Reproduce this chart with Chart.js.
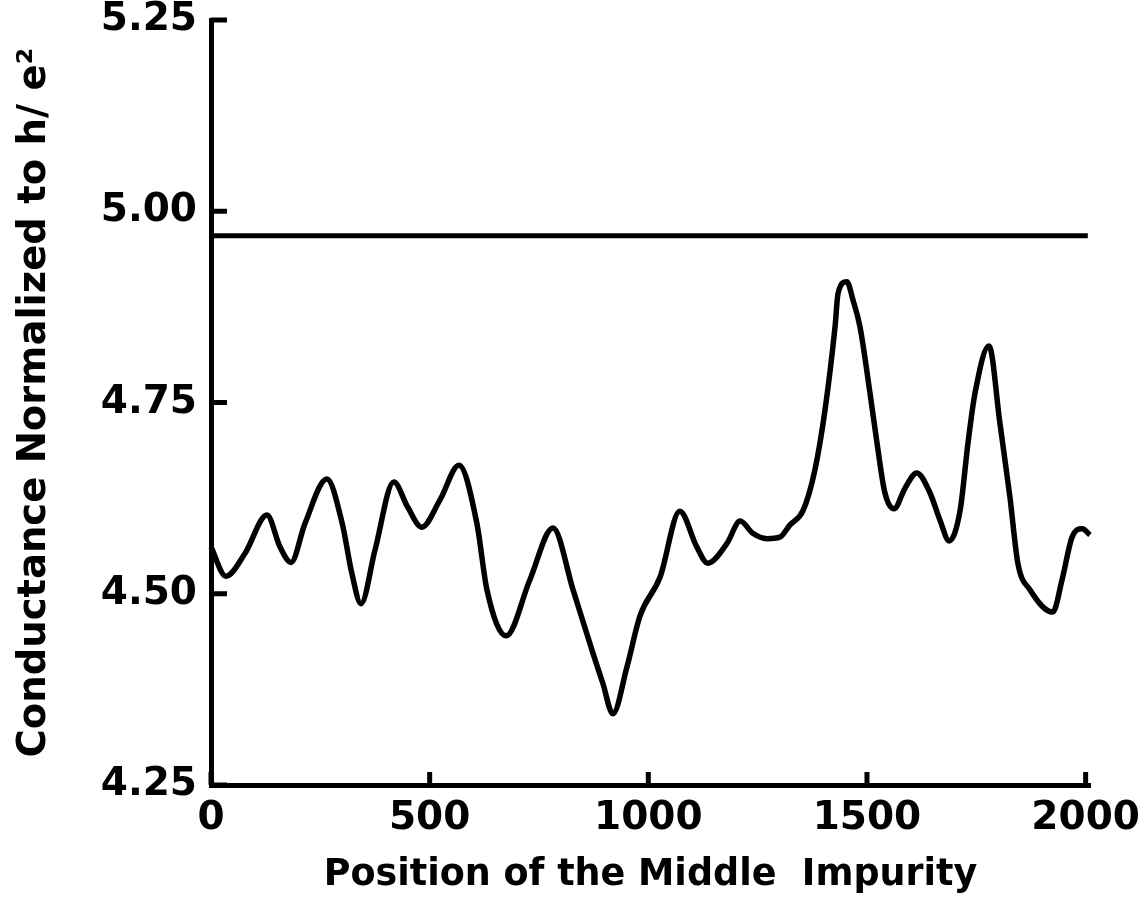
<!DOCTYPE html>
<html>
<head>
<meta charset="utf-8">
<script src="https://cdn.jsdelivr.net/npm/chart.js@4.4.1/dist/chart.umd.min.js"></script>
<style>
  html, body { margin: 0; padding: 0; background: #fff; }
  #wrap { width: 1147px; height: 902px; position: relative; }
</style>
</head>
<body>
<div id="wrap"><canvas id="chart"></canvas></div>
<script>
// impurity position along the wire
const positions = [
  0, 34, 78, 128, 158, 183, 215, 265, 300, 322, 343, 375, 418, 450, 482,
  524, 567, 608, 631, 675, 729, 782, 828, 873, 896, 919, 951, 981, 1027,
  1072, 1111, 1136, 1180, 1210, 1239, 1271, 1301, 1324, 1354, 1381, 1404,
  1427, 1434, 1454, 1468, 1484, 1507, 1523, 1541, 1562, 1587, 1614, 1644,
  1667, 1688, 1713, 1731, 1747, 1779, 1804, 1827, 1845, 1873, 1925, 1946,
  1969, 1992, 2010
];
// conductance in units of e^2/h
const conductance = [
  4.561, 4.523, 4.553, 4.603, 4.561, 4.541, 4.592, 4.650, 4.592, 4.527,
  4.487, 4.557, 4.646, 4.613, 4.587, 4.623, 4.668, 4.592, 4.505, 4.445,
  4.518, 4.586, 4.505, 4.423, 4.383, 4.343, 4.404, 4.471, 4.522, 4.608,
  4.561, 4.540, 4.566, 4.595, 4.579, 4.572, 4.574, 4.590, 4.609, 4.662,
  4.740, 4.849, 4.893, 4.908, 4.884, 4.849, 4.762, 4.697, 4.632, 4.611,
  4.638, 4.658, 4.632, 4.596, 4.569, 4.609, 4.697, 4.762, 4.824, 4.723,
  4.626, 4.540, 4.505, 4.476, 4.518, 4.574, 4.585, 4.577
];
// ideal (impurity-free) level
const refX = [0, 2005];
const refLevel = [4.968, 4.968];

const xTicks = [0, 500, 1000, 1500, 2000];
const yTicks = [4.25, 4.50, 4.75, 5.00, 5.25];

const FONT = "'DejaVu Sans', sans-serif";

// short tick marks pointing into the plot
const inwardTicks = {
  id: 'inwardTicks',
  afterDraw(chart) {
    const { ctx, scales: { x, y } } = chart;
    ctx.save();
    ctx.strokeStyle = '#000';
    ctx.lineWidth = 5;
    ctx.beginPath();
    yTicks.forEach(v => {
      const py = y.getPixelForValue(v);
      ctx.moveTo(x.left, py);
      ctx.lineTo(x.left + 16, py);
    });
    xTicks.forEach(v => {
      const px = x.getPixelForValue(v);
      ctx.moveTo(px, y.bottom);
      ctx.lineTo(px, y.bottom - 13);
    });
    ctx.stroke();
    ctx.restore();
  }
};

new Chart(document.getElementById('chart'), {
  type: 'line',
  data: {
    datasets: [
      {
        data: positions.map((p, i) => ({ x: p, y: conductance[i] })),
        borderColor: '#000',
        borderWidth: 5.5,
        pointRadius: 0,
        cubicInterpolationMode: 'monotone',
        fill: false
      },
      {
        data: refX.map((p, i) => ({ x: p, y: refLevel[i] })),
        borderColor: '#000',
        borderWidth: 5,
        pointRadius: 0,
        fill: false
      }
    ]
  },
  options: {
    responsive: true,
    maintainAspectRatio: false,
    animation: false,
    clip: false,
    layout: { padding: { top: 20, right: 57, bottom: 0, left: 0 } },
    plugins: { legend: { display: false }, tooltip: { enabled: false } },
    scales: {
      x: {
        type: 'linear',
        min: 0,
        max: 2010,
        afterBuildTicks: s => { s.ticks = xTicks.map(v => ({ value: v })); },
        afterFit: s => {
          s.height = 117;
          s.paddingLeft = 0; s.paddingRight = 0;
        },
        grid: { display: true, drawOnChartArea: false, drawTicks: false },
        border: { display: true, color: '#000', width: 5 },
        ticks: {
          color: '#000',
          padding: 10,
          maxRotation: 0,
          font: { family: FONT, size: 39, weight: 'bold' },
          callback: v => String(v)
        },
        title: {
          display: true,
          text: 'Position of the Middle  Impurity',
          color: '#000',
          font: { family: FONT, size: 36.5, weight: 'bold' },
          padding: { top: 0, bottom: 5 }
        }
      },
      y: {
        type: 'linear',
        min: 4.25,
        max: 5.25,
        afterBuildTicks: s => { s.ticks = yTicks.map(v => ({ value: v })); },
        afterFit: s => {
          s.width = 211;
          s.paddingTop = 0; s.paddingBottom = 0;
        },
        grid: { display: true, drawOnChartArea: false, drawTicks: false },
        border: { display: true, color: '#000', width: 5 },
        ticks: {
          color: '#000',
          padding: 14,
          font: { family: FONT, size: 39, weight: 'bold' },
          callback: v => v.toFixed(2)
        },
        title: {
          display: true,
          text: 'Conductance Normalized to h/ e\u00b2',
          color: '#000',
          font: { family: FONT, size: 38.5, weight: 'bold' },
          padding: { top: 12, bottom: 0 }
        }
      }
    }
  },
  plugins: [inwardTicks]
});
</script>
</body>
</html>
